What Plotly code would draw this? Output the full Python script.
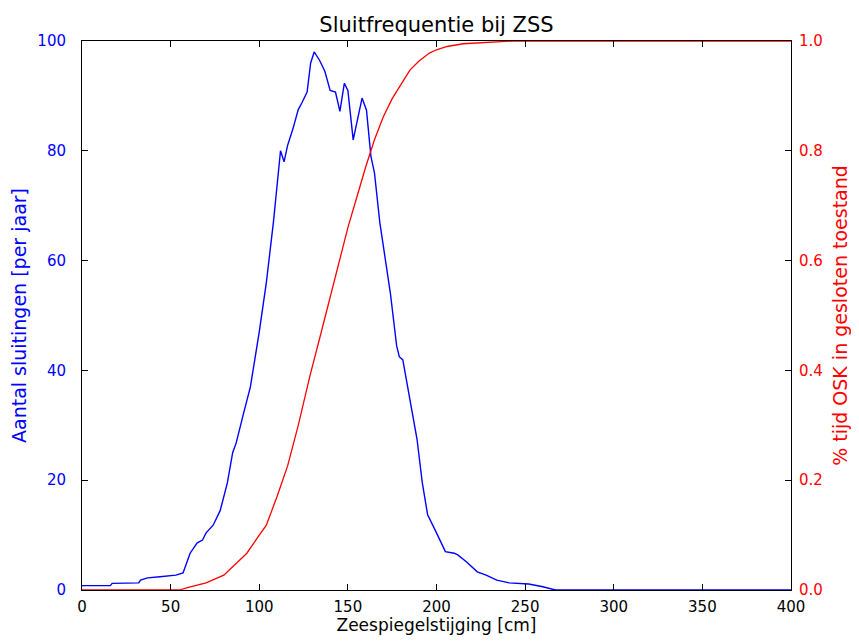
import plotly.graph_objects as go

# Blue series: closures per year vs sea-level rise
blue_x = [0, 16, 17, 32, 33, 37, 44, 53, 57, 61, 65, 68, 70, 74, 78, 82, 85, 87, 91, 95,
          100, 104, 108, 110, 112, 114, 116, 119, 122, 124, 127, 129, 131, 134, 137, 140,
          143, 145.5, 148, 150, 153, 158, 160.5, 163, 165, 168, 172, 174, 177.5, 179, 181,
          185, 189, 192, 195, 200, 205, 210, 212, 217, 223, 228, 234, 241, 252, 260, 266,
          267, 400]
blue_y = [0.8, 0.8, 1.2, 1.3, 1.8, 2.2, 2.4, 2.7, 3.1, 6.7, 8.6, 9.1, 10.4, 11.8, 14.5,
          19.5, 25, 26.8, 32, 37, 47, 56, 67, 73, 80, 78, 81, 84, 87.5, 88.7, 90.7, 96,
          98, 96.5, 94.5, 91, 90.7, 87.2, 92.3, 91, 82, 89.6, 87.4, 79, 76, 67, 57.7, 54,
          44.5, 42.5, 41.9, 34.6, 27.5, 19.5, 13.7, 10.4, 7, 6.7, 6.4, 5.1, 3.3, 2.7, 1.8,
          1.3, 1.1, 0.6, 0.1, 0, 0]

# Red series: fraction of time closed
red_x = [0, 55, 60, 70, 80, 86, 93, 100, 104, 110, 116, 122, 128.6, 135, 140, 145, 150,
         155, 160, 165, 170, 175, 180, 185, 190, 196, 200, 206, 215, 225, 243, 400]
red_y = [0, 0, 0.005, 0.013, 0.027, 0.045, 0.067, 0.1, 0.118, 0.17, 0.226, 0.3, 0.39,
         0.47, 0.535, 0.6, 0.66, 0.715, 0.77, 0.82, 0.862, 0.895, 0.922, 0.947, 0.963,
         0.978, 0.984, 0.99, 0.995, 0.997, 1.0, 1.0]

x_ticks = [0, 50, 100, 150, 200, 250, 300, 350, 400]
y_ticks = [0, 20, 40, 60, 80, 100]
y2_ticks = [0.0, 0.2, 0.4, 0.6, 0.8, 1.0]

FONT = "DejaVu Sans"

fig = go.Figure()
fig.add_trace(go.Scatter(x=blue_x, y=blue_y, mode="lines",
                         line=dict(color="#0000ff", width=1.4), yaxis="y",
                         showlegend=False))
fig.add_trace(go.Scatter(x=red_x, y=red_y, mode="lines",
                         line=dict(color="#ff0000", width=1.3), yaxis="y2",
                         showlegend=False))

fig.update_layout(
    width=843, height=627,
    margin=dict(l=74, r=60, t=33, b=45, autoexpand=False),
    paper_bgcolor="white", plot_bgcolor="white",
    font=dict(family=FONT, size=15, color="black"),
    title=dict(text="Sluitfrequentie bij ZSS", x=0.5, xref="paper", xanchor="center",
               y=1, yref="paper", yanchor="bottom", pad=dict(b=9),
               font=dict(family=FONT, size=21, color="black")),
    xaxis=dict(range=[0, 400], tickvals=x_ticks, ticks="inside", ticklen=6,
               tickcolor="black", showline=True, linecolor="black", linewidth=1,
               mirror="ticks", showgrid=False, zeroline=False, ticklabelstandoff=3,
               automargin=False,
               title=dict(text="Zeespiegelstijging [cm]", standoff=13,
                          font=dict(family=FONT, size=17, color="black")),
               tickfont=dict(family=FONT, size=15, color="black")),
    yaxis=dict(range=[0, 100], tickvals=y_ticks, ticks="inside", ticklen=6,
               tickcolor="black", showline=True, linecolor="black", linewidth=1,
               showgrid=False, zeroline=False, ticklabelstandoff=12, automargin=False,
               title=dict(text="Aantal sluitingen [per jaar]", standoff=10,
                          font=dict(family=FONT, size=19, color="#0000ff")),
               tickfont=dict(family=FONT, size=15, color="#0000ff")),
    yaxis2=dict(range=[0, 1], tickvals=y2_ticks, tickformat=".1f", overlaying="y",
                side="right", ticks="inside", ticklen=6, tickcolor="black",
                showline=True, linecolor="black", linewidth=1, showgrid=False,
                zeroline=False, ticklabelstandoff=4, automargin=False,
                title=dict(text="% tijd OSK in gesloten toestand", standoff=24,
                           font=dict(family=FONT, size=19, color="#ff0000")),
                tickfont=dict(family=FONT, size=15, color="#ff0000")),
)

fig.write_html("out.html")
